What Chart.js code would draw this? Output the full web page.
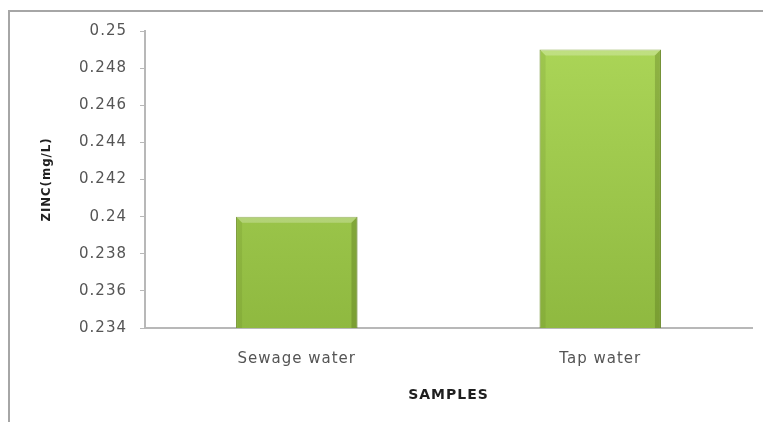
<!DOCTYPE html>
<html>
<head>
<meta charset="utf-8">
<script src="https://cdn.jsdelivr.net/npm/chart.js@4"></script>
<style>
    html, body { margin: 0; padding: 0; background: #fff; }
    #wrap { position: relative; width: 763px; height: 422px; }
    #frame {
        position: absolute; left: 8px; top: 10px; right: 0; bottom: 0;
        border-top: 2px solid #a6a6a6; border-left: 2px solid #a6a6a6;
    }
    #chart { position: absolute; left: 0; top: 0; }
</style>
</head>
<body>
<div id="wrap">
    <div id="frame"></div>
    <canvas id="chart" width="763" height="422"></canvas>
</div>
<script>
const categories = ["Sewage water", "Tap water"];
const zincValues = [0.240, 0.249];
const yMin = 0.234;
const yMax = 0.25;
const yStep = 0.002;

const labelFont = "'DejaVu Sans', sans-serif";

// the reference text is drawn wide, so space the letters out a bit
const spacingPlugin = {
    id: "spacing",
    beforeDraw(chart) {
        chart.ctx.letterSpacing = "1px";
    }
};

// bevel edges on each bar, drawn from the bar element's own geometry
const bevelPlugin = {
    id: "bevel",
    afterDatasetsDraw(chart) {
        const ctx = chart.ctx;
        const area = chart.chartArea;
        chart.getDatasetMeta(0).data.forEach(bar => {
            const left = bar.x - bar.width / 2;
            const right = bar.x + bar.width / 2;
            const top = bar.y;
            const bottom = Math.min(bar.base, area.bottom);
            const e = 6;
            ctx.save();
            // top highlight
            ctx.fillStyle = "rgba(255,255,255,0.25)";
            ctx.beginPath();
            ctx.moveTo(left, top); ctx.lineTo(right, top);
            ctx.lineTo(right - e, top + e); ctx.lineTo(left + e, top + e);
            ctx.fill();
            // right shade
            ctx.fillStyle = "rgba(60,80,10,0.25)";
            ctx.beginPath();
            ctx.moveTo(right, top); ctx.lineTo(right, bottom);
            ctx.lineTo(right - e, bottom); ctx.lineTo(right - e, top + e);
            ctx.fill();
            // left shade
            ctx.fillStyle = "rgba(60,80,10,0.10)";
            ctx.beginPath();
            ctx.moveTo(left, top); ctx.lineTo(left, bottom);
            ctx.lineTo(left + e, bottom); ctx.lineTo(left + e, top + e);
            ctx.fill();
            ctx.restore();
        });
    }
};

function barGradient(context) {
    const area = context.chart.chartArea;
    if (!area) return "#9cc64b";
    const g = context.chart.ctx.createLinearGradient(0, area.top, 0, area.bottom);
    g.addColorStop(0, "#acd658");
    g.addColorStop(1, "#8fb940");
    return g;
}

new Chart(document.getElementById("chart"), {
    type: "bar",
    data: {
        labels: categories,
        datasets: [{
            data: zincValues,
            backgroundColor: barGradient,
            borderColor: "#7c9f34",
            borderWidth: 1,
            borderSkipped: false,
            categoryPercentage: 0.8,
            barPercentage: 0.5
        }]
    },
    plugins: [spacingPlugin, bevelPlugin],
    options: {
        responsive: false,
        animation: false,
        layout: { padding: { top: 31, right: 11, left: 0, bottom: 0 } },
        plugins: {
            legend: { display: false },
            tooltip: { enabled: false }
        },
        scales: {
            x: {
                afterFit(scale) { scale.height = 94; },
                grid: { display: false, drawTicks: false },
                border: { display: true, color: "#b8b8b8", width: 2 },
                ticks: {
                    color: "#555555",
                    padding: 22,
                    font: { family: labelFont, size: 15 }
                },
                title: {
                    display: true,
                    text: "SAMPLES",
                    color: "#1f1f1f",
                    padding: { top: 0, bottom: 18 },
                    font: { family: labelFont, size: 14, weight: "bold" }
                }
            },
            y: {
                min: yMin,
                max: yMax,
                afterFit(scale) { scale.width = 145; },
                afterBuildTicks(scale) {
                    const ticks = [];
                    for (let i = 0; i <= Math.round((yMax - yMin) / yStep); i++) {
                        ticks.push({ value: +(yMin + i * yStep).toFixed(3) });
                    }
                    scale.ticks = ticks;
                },
                grid: {
                    drawOnChartArea: false,
                    drawTicks: true,
                    tickLength: 5,
                    color: "#b8b8b8"
                },
                border: { display: true, color: "#b8b8b8", width: 2 },
                ticks: {
                    color: "#555555",
                    padding: 13,
                    font: { family: labelFont, size: 15 },
                    callback: v => String(+v.toFixed(3))
                },
                title: {
                    display: true,
                    text: "ZINC(mg/L)",
                    color: "#1f1f1f",
                    padding: { top: 39, bottom: 0 },
                    font: { family: "'DejaVu Sans Condensed', 'DejaVu Sans', sans-serif", size: 13, weight: "bold" }
                }
            }
        }
    }
});
</script>
</body>
</html>
